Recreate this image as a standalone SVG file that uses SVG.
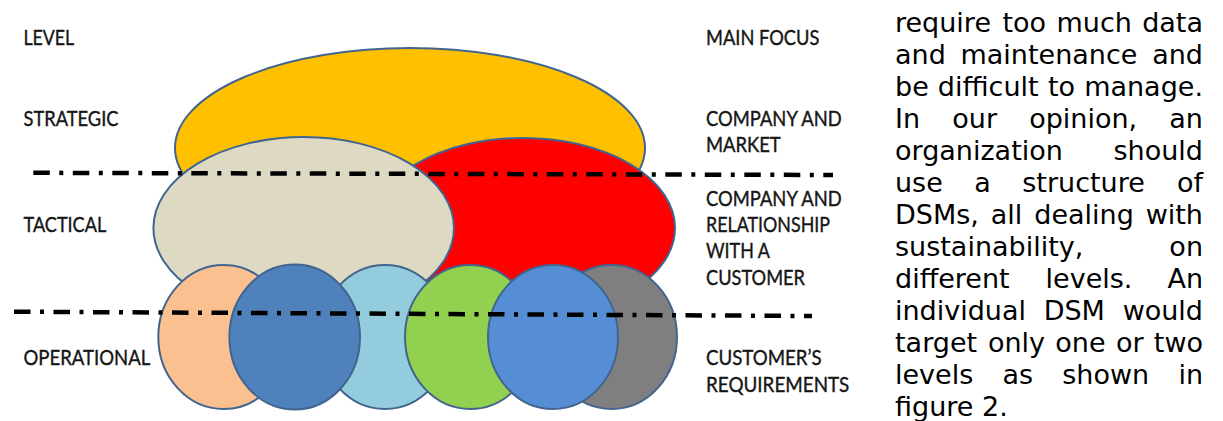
<svg xmlns="http://www.w3.org/2000/svg" width="1223" height="421" viewBox="0 0 1223 421">
  <style>
    .shape { stroke: #41658f; stroke-width: 2; }
    .lvl { font-family: Lato, "Open Sans", "Liberation Sans", sans-serif; font-size: 21.5px; fill: #161616; stroke: #161616; stroke-width: 0.4; }
    .body { font-family: "DejaVu Sans", Verdana, sans-serif; font-size: 27px; fill: #000; }
    .divider { fill: none; stroke: #000; stroke-width: 4.5; stroke-dasharray: 16.5 9.5 4 9.5; }
  </style>
  <rect width="1223" height="421" fill="#fff"/>

  <!-- overlapping focus areas -->
  <g id="strategic-area"><ellipse class="shape" cx="410" cy="148" rx="235" ry="100" fill="#FFC000"/></g>
  <g id="tactical-area-red"><ellipse class="shape" cx="523" cy="228" rx="152" ry="90" fill="#FF0000"/></g>
  <g id="tactical-area-beige"><ellipse class="shape" cx="303.7" cy="228" rx="150.3" ry="91" fill="#DDD9C3"/></g>
  <g id="op-orange"><ellipse class="shape" cx="223.6" cy="337" rx="65.3" ry="72" fill="#FAC090"/></g>
  <g id="op-lightblue"><ellipse class="shape" cx="385" cy="337" rx="65.3" ry="72" fill="#93CDDD"/></g>
  <g id="op-blue"><ellipse class="shape" cx="294.7" cy="337" rx="65.3" ry="72.5" fill="#4F81BD"/></g>
  <g id="op-green"><ellipse class="shape" cx="470.3" cy="337" rx="65.3" ry="72" fill="#92D050"/></g>
  <g id="op-gray"><ellipse class="shape" cx="611.7" cy="337" rx="65.3" ry="72" fill="#7F7F7F"/></g>
  <g id="op-blue2"><ellipse class="shape" cx="553" cy="337" rx="65" ry="72" fill="#558ED5"/></g>

  <!-- level dividers -->
  <g id="dividers">
    <line class="divider" x1="33.3" y1="172.8" x2="833" y2="175"/>
    <line class="divider" x1="14" y1="311.7" x2="812" y2="316"/>
  </g>

  <!-- level labels -->
  <g id="level-labels">
    <text class="lvl" x="23.5" y="45" textLength="50.7" lengthAdjust="spacingAndGlyphs">LEVEL</text>
    <text class="lvl" x="23.5" y="126" textLength="95" lengthAdjust="spacingAndGlyphs">STRATEGIC</text>
    <text class="lvl" x="23.5" y="231.7" textLength="82.7" lengthAdjust="spacingAndGlyphs">TACTICAL</text>
    <text class="lvl" x="23.5" y="365" textLength="126.7" lengthAdjust="spacingAndGlyphs">OPERATIONAL</text>
  </g>

  <!-- focus labels -->
  <g id="focus-labels">
    <text class="lvl" x="706" y="45" textLength="113.3" lengthAdjust="spacingAndGlyphs">MAIN FOCUS</text>
    <text class="lvl" x="706" y="126" textLength="135.7" lengthAdjust="spacingAndGlyphs">COMPANY AND</text>
    <text class="lvl" x="706" y="151.7" textLength="74.7" lengthAdjust="spacingAndGlyphs">MARKET</text>
    <text class="lvl" x="706" y="206" textLength="135.7" lengthAdjust="spacingAndGlyphs">COMPANY AND</text>
    <text class="lvl" x="706" y="231.7" textLength="124" lengthAdjust="spacingAndGlyphs">RELATIONSHIP</text>
    <text class="lvl" x="706" y="258.3" textLength="64" lengthAdjust="spacingAndGlyphs">WITH A</text>
    <text class="lvl" x="706" y="285" textLength="99" lengthAdjust="spacingAndGlyphs">CUSTOMER</text>
    <text class="lvl" x="706" y="365" textLength="115.7" lengthAdjust="spacingAndGlyphs">CUSTOMER’S</text>
    <text class="lvl" x="706" y="391.7" textLength="143.3" lengthAdjust="spacingAndGlyphs">REQUIREMENTS</text>
  </g>

  <!-- justified paragraph -->
  <g id="paragraph" class="body">
    <text y="32"><tspan x="895">require</tspan><tspan x="1002.5">too</tspan><tspan x="1056.5">much</tspan><tspan x="1203" text-anchor="end">data</tspan></text>
    <text y="64"><tspan x="895">and</tspan><tspan x="960.5">maintenance</tspan><tspan x="1203" text-anchor="end">and</tspan></text>
    <text y="96"><tspan x="895">be</tspan><tspan x="937.8">difficult</tspan><tspan x="1048">to</tspan><tspan x="1203" text-anchor="end">manage.</tspan></text>
    <text y="128"><tspan x="895">In</tspan><tspan x="952.3">our</tspan><tspan x="1029.2">opinion,</tspan><tspan x="1203" text-anchor="end">an</tspan></text>
    <text y="160"><tspan x="895">organization</tspan><tspan x="1203" text-anchor="end">should</tspan></text>
    <text y="192"><tspan x="895">use</tspan><tspan x="974.3">a</tspan><tspan x="1022.3">structure</tspan><tspan x="1203" text-anchor="end">of</tspan></text>
    <text y="224"><tspan x="895">DSMs,</tspan><tspan x="990.8">all</tspan><tspan x="1034.3">dealing</tspan><tspan x="1203" text-anchor="end">with</tspan></text>
    <text y="256"><tspan x="895">sustainability,</tspan><tspan x="1203" text-anchor="end">on</tspan></text>
    <text y="288"><tspan x="895">different</tspan><tspan x="1045.6">levels.</tspan><tspan x="1203" text-anchor="end">An</tspan></text>
    <text y="320"><tspan x="895">individual</tspan><tspan x="1043.7">DSM</tspan><tspan x="1203" text-anchor="end">would</tspan></text>
    <text y="352"><tspan x="895">target</tspan><tspan x="987.9">only</tspan><tspan x="1055.3">one</tspan><tspan x="1115.9">or</tspan><tspan x="1203" text-anchor="end">two</tspan></text>
    <text y="384"><tspan x="895">levels</tspan><tspan x="1002.5">as</tspan><tspan x="1062.3">shown</tspan><tspan x="1203" text-anchor="end">in</tspan></text>
    <text y="416"><tspan x="895">figure 2.</tspan></text>
  </g>
</svg>
